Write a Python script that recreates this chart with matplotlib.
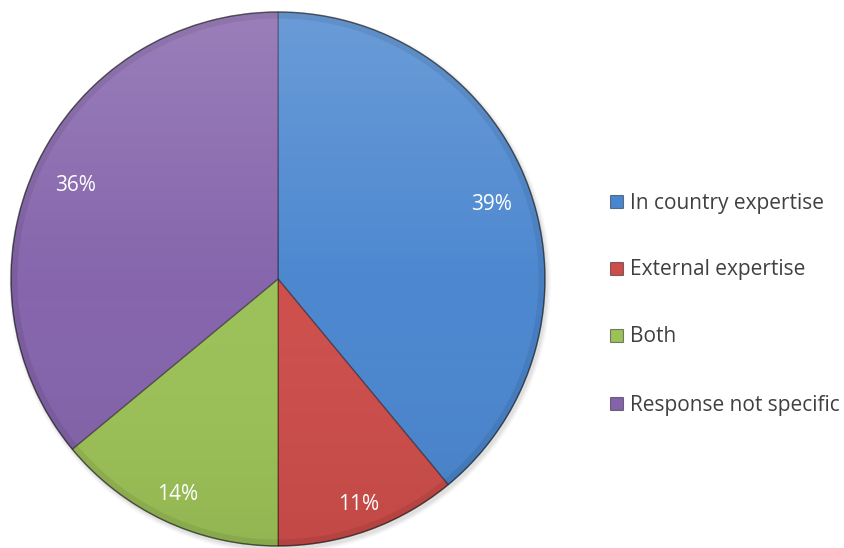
import numpy as np
import matplotlib.pyplot as plt
from matplotlib.patches import Circle, Rectangle
from matplotlib.colors import LinearSegmentedColormap

categories = ["In country expertise", "External expertise", "Both", "Response not specific"]
shares = [39, 11, 14, 36]
colors = ["#4A86CF", "#CD4D4A", "#9CC157", "#8463AB"]
label_dist = [0.85, 0.89, 0.885, 0.84]

W, H = 844, 548
fig = plt.figure(figsize=(W / 100, H / 100), dpi=100)
ax = fig.add_axes([0, 0, 1, 1])

cx, cy, R = 278, 269, 267

# soft drop shadow
for i, a in enumerate([0.05, 0.04, 0.03]):
    ax.add_patch(Circle((cx + 2, cy - 3), R + 1 + i * 1.5, color="black", alpha=a, lw=0, zorder=0))

wedges, _ = ax.pie(shares, colors=colors, startangle=90, counterclock=False,
                   center=(cx, cy), radius=R, frame=True,
                   wedgeprops=dict(linewidth=1.0, edgecolor=(0, 0, 0, 0.35)))

# lighting: lighter at top, darker toward bottom
grad = np.linspace(0, 1, 256).reshape(-1, 1)
cmap = LinearSegmentedColormap.from_list(
    "shade", [(1, 1, 1, 0.18), (1, 1, 1, 0.02), (0, 0, 0, 0.06)])
clip = Circle((cx, cy), R, transform=ax.transData)
im = ax.imshow(grad, extent=(cx - R, cx + R, cy - R, cy + R), origin="upper",
               cmap=cmap, aspect="auto", zorder=3, interpolation="bilinear")
im.set_clip_path(clip)

# bevel rim
ax.add_patch(Circle((cx, cy), R - 3, fill=False, lw=5, ec=(0, 0, 0, 0.07), zorder=4))
ax.add_patch(Circle((cx, cy), R, fill=False, lw=1.0, ec=(0, 0, 0, 0.35), zorder=4))

# percentage labels
total = sum(shares)
start = 90.0
for v, d in zip(shares, label_dist):
    mid = start - v / total * 360 / 2
    start -= v / total * 360
    th = np.deg2rad(mid)
    ax.text(cx + d * R * np.cos(th), cy + d * R * np.sin(th) - 2, f"{v}%",
            ha="center", va="center", color="white", fontsize=15,
            family="Open Sans", zorder=5)

# legend
rows_y = [H - 201, H - 268, H - 335, H - 403]
for name, col, y in zip(categories, colors, rows_y):
    ax.add_patch(Rectangle((610, y - 6.5), 13, 13, fc=col, ec=(0, 0, 0, 0.45), lw=0.8, zorder=5))
    ax.text(630, y - 2, name, ha="left", va="center", color="#404040",
            fontsize=15, family="Open Sans", zorder=5)

ax.set_xlim(0, W)
ax.set_ylim(0, H)
ax.set_aspect("equal")
ax.axis("off")

fig.savefig("out.png", dpi=100)
